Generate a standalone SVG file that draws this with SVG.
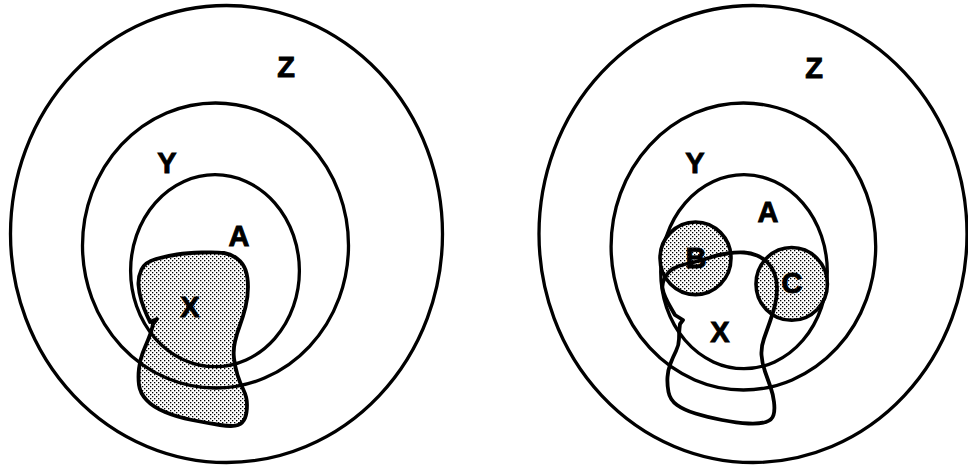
<svg xmlns="http://www.w3.org/2000/svg" xmlns:xlink="http://www.w3.org/1999/xlink" width="968" height="466" viewBox="0 0 968 466">
<defs>
<pattern id="dots" width="4" height="4" patternUnits="userSpaceOnUse">
<rect width="4" height="4" fill="#fff"/>
<rect x="0" y="0" width="1.3" height="1.3" fill="#000"/>
<rect x="2" y="2" width="1.3" height="1.3" fill="#000"/>
</pattern>
<path id="xl-shape" d="M141.5,269.5 Q145,262 156,259 Q167,256 177,254.5 Q187,253 202,252.5 Q217,252 224,253 Q231,254 237,258.5 Q243,263 245.5,270 Q248,277 248,287 Q248,297 245.5,307 Q243,317 240,325 Q237,333 235,341.5 Q233,350 234,358.5 Q235,367 237.5,375 Q240,383 243.5,390 Q247,397 247,405 Q247,413 245,418 Q243,423 238,425 Q233,427 220,425 Q207,423 192,420 Q177,417 165,412 Q153,407 146.5,400 Q140,393 139,385 Q138,377 139,368.5 Q140,360 142.5,353.5 Q145,347 148,340 Q151,333 152,328.5 L153,324 L157,319 L150,322 L147,315.5 Q144,309 141.5,301 Q139,293 138.5,285 Q138,277 141.5,269.5 Z"/>
</defs>
<style>
.ring{fill:none;stroke:#000;stroke-width:3.3}
.blob{fill:none;stroke:#000;stroke-width:3.8;stroke-linejoin:round}
.shade{fill:url(#dots);stroke:none}
.sub{fill:url(#dots);stroke:#000;stroke-width:3.6}
.lbl{font-family:"Liberation Sans",Arial,Helvetica,sans-serif;font-weight:bold;font-size:29px;fill:#000;stroke:#000;stroke-width:0.9;text-anchor:middle}
</style>
<rect width="968" height="466" fill="#fff"/>
<g id="connectors"/>
<g id="left-diagram">
<g id="left-X-fill"><use xlink:href="#xl-shape" class="shade"/></g>
<g id="left-Z"><ellipse class="ring" cx="226.5" cy="234" rx="216" ry="228.5"/><text class="lbl" x="286" y="77">Z</text></g>
<g id="left-Y"><ellipse class="ring" cx="215.5" cy="245.5" rx="133" ry="142.5"/><text class="lbl" x="167" y="173">Y</text></g>
<g id="left-A"><ellipse class="ring" cx="215" cy="270.7" rx="84.4" ry="96"/><text class="lbl" x="239" y="246">A</text></g>
<g id="left-X"><use xlink:href="#xl-shape" class="blob"/><text class="lbl" x="190" y="317">X</text></g>
</g>
<g id="right-diagram">
<g id="right-Z"><ellipse class="ring" cx="753" cy="234" rx="214" ry="228.5"/><text class="lbl" x="814" y="78">Z</text></g>
<g id="right-Y"><ellipse class="ring" cx="743.4" cy="246.5" rx="132.3" ry="143.5"/><text class="lbl" x="695" y="173">Y</text></g>
<g id="right-A"><ellipse class="ring" cx="744" cy="271.7" rx="83.3" ry="97"/><text class="lbl" x="768" y="222">A</text></g>
<g id="right-B"><ellipse class="sub" cx="695.5" cy="258.3" rx="35.5" ry="36.3"/></g>
<g id="right-C"><ellipse class="sub" cx="791.7" cy="283.9" rx="35.7" ry="36.4"/></g>
<g id="right-X"><path class="blob" d="M727,253.5 Q737,252 744,252.5 Q751,253 757,255.5 Q763,258 767.5,262.5 Q772,267 774.5,273.5 Q777,280 777,288.5 Q777,297 775,305 Q773,313 770,321.5 Q767,330 764,338.5 Q761,347 761.5,355 Q762,363 765,371.5 Q768,380 770.5,387 Q773,394 774,402 Q775,410 773.5,415 Q772,420 766,422 Q760,424 748.5,423.5 Q737,423 722,420 Q707,417 695.5,413.5 Q684,410 677,405 Q670,400 668.5,392 Q667,384 667.5,377 Q668,370 670.5,363.5 Q673,357 676,351 Q679,345 679,339 Q679,333 679.5,328.5 L680,324 L683,320 L675,315 L671.5,309 Q668,303 665.5,297.5 Q663,292 662.5,288 Q662,284 664,279.5 Q666,275 669.5,271.5 Q673,268 679,266 Q685,264 692.5,262.5 Q700,261 708.5,258 Q717,255 727,253.5 Z"/><text class="lbl" x="720" y="342">X</text></g>
<g id="right-labels-BC"><text class="lbl" x="696" y="268">B</text><text class="lbl" x="792" y="293">C</text></g>
</g>
</svg>
